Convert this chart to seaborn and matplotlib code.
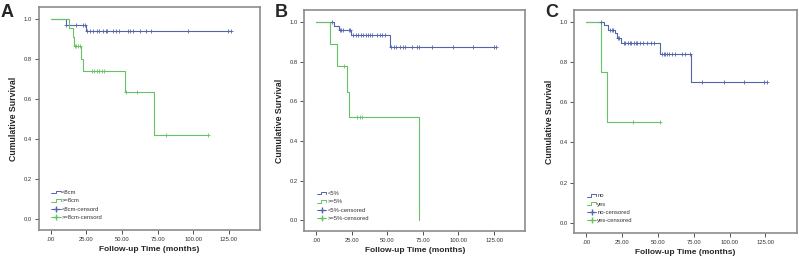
import numpy as np
import pandas as pd
import seaborn as sns
import matplotlib
matplotlib.use("Agg")
import matplotlib.pyplot as plt
from matplotlib.lines import Line2D
from matplotlib.legend_handler import HandlerBase

sns.set_style("white")
plt.rcParams['font.family'] = ['Liberation Sans', 'DejaVu Sans']

BLUE = "#5366ab"
GREEN = "#66c266"

# ---------------- Panel A: tumour size ----------------
a_blue_t = [0, 10.5, 24.7, 126.7]
a_blue_s = [1.0, 0.97, 0.94, 0.94]
a_blue_cens_t = [11, 18, 22.8, 24,
                 25.7, 27.5, 29.9, 32.2, 34.1, 36.4, 38.7, 39.7, 43.9, 45.7, 48.1,
                 54.4, 55.5, 57.9, 62.5, 67.2, 70.7, 96.4, 124.4, 126.7]
a_blue_cens_s = [0.97] * 4 + [0.94] * 20
a_green_t = [0, 13, 15.4, 16.3, 21.2, 22.9, 52, 72.6, 110.4]
a_green_s = [1.0, 0.955, 0.91, 0.864, 0.80, 0.74, 0.635, 0.423, 0.423]
a_green_cens_t = [17, 18, 19.4, 20.5, 28.7, 30.3, 32.2, 33.8, 35.7, 37.3, 52.5, 60.2, 81.2, 110.4]
a_green_cens_s = [0.864] * 4 + [0.74] * 6 + [0.635] * 2 + [0.423] * 2
a_labels = ["<8cm", ">=8cm", "<8cm-censord", ">=8cm-censord"]

# ---------------- Panel B ----------------
b_blue_t = [0, 12.8, 15.8, 24.6, 51.8, 126.6]
b_blue_s = [1.0, 0.98, 0.96, 0.935, 0.875, 0.875]
b_blue_cens_t = [11, 16.7, 17.6, 19, 22.8, 23.7,
                 26, 27.9, 29.7, 31.4, 33, 34.9, 36.7, 37.8, 39.5, 43, 44.6, 46.5, 48.3,
                 52.3, 54.6, 56.2, 58.6, 60.9, 62.7, 67.4, 70.9, 72.5, 81.3, 96.4, 110.4, 125, 126.6]
b_blue_cens_s = [1.0] + [0.96] * 5 + [0.935] * 13 + [0.875] * 14
b_green_t = [0, 10, 14.6, 21.6, 22.8, 72.5]
b_green_s = [1.0, 0.889, 0.778, 0.648, 0.519, 0.0]
b_green_cens_t = [19.3, 29, 30.7, 32.5]
b_green_cens_s = [0.778, 0.519, 0.519, 0.519]
b_labels = ["<5%", ">=5%", "<5%-censored", ">=5%-censored"]

# ---------------- Panel C ----------------
c_blue_t = [0, 12.6, 15.6, 20.3, 21.4, 24.2, 51.7, 73.1, 126.3]
c_blue_s = [1.0, 0.985, 0.963, 0.945, 0.92, 0.896, 0.84, 0.70, 0.70]
c_blue_cens_t = [10.5, 16.8, 17.9, 19.1, 21.9, 22.6,
                 26.1, 27.2, 28.9, 30.3, 31.4, 33.1, 34.9, 35.8, 37.7, 40, 42.4, 45.2, 47.5,
                 52.8, 54, 55.2, 56.3, 57.5, 59.8, 62.2, 66.8, 69.1, 72.2,
                 81, 96, 110, 124, 126.3]
c_blue_cens_s = [1.0] + [0.963] * 3 + [0.92] * 2 + [0.896] * 13 + [0.84] * 10 + [0.70] * 5
c_green_t = [0, 10.2, 14.9, 51.7]
c_green_s = [1.0, 0.75, 0.5, 0.5]
c_green_cens_t = [32.6, 51.7]
c_green_cens_s = [0.5, 0.5]
c_labels = ["no", "yes", "no-censored", "yes-censored"]

x_ticks = [0, 25, 50, 75, 100, 125]
x_tick_labels = [".00", "25.00", "50.00", "75.00", "100.00", "125.00"]
y_ticks = [0.0, 0.2, 0.4, 0.6, 0.8, 1.0]
y_tick_labels = ["0.0", "0.2", "0.4", "0.6", "0.8", "1.0"]


class StepHandler(HandlerBase):
    def create_artists(self, legend, orig_handle, xdescent, ydescent, width, height, fontsize, trans):
        x0, x1 = -xdescent, -xdescent + width
        ylo = -ydescent + height * 0.2
        yhi = -ydescent + height * 0.85
        xm = x0 + width * 0.45
        line = Line2D([x0, xm, xm, x1, x1], [ylo, ylo, yhi, yhi, ylo + height * 0.2],
                      color=orig_handle.get_color(), lw=0.7)
        line.set_transform(trans)
        return [line]


fig = plt.figure(figsize=(7.99, 2.62), dpi=100)
positions = [
    [0.0488, 0.1221, 0.2766, 0.852],
    [0.381, 0.1183, 0.2762, 0.8435],
    [0.7188, 0.1095, 0.2783, 0.852],
]
panels = [
    ("A", a_blue_t, a_blue_s, a_blue_cens_t, a_blue_cens_s, a_green_t, a_green_s, a_green_cens_t, a_green_cens_s, a_labels),
    ("B", b_blue_t, b_blue_s, b_blue_cens_t, b_blue_cens_s, b_green_t, b_green_s, b_green_cens_t, b_green_cens_s, b_labels),
    ("C", c_blue_t, c_blue_s, c_blue_cens_t, c_blue_cens_s, c_green_t, c_green_s, c_green_cens_t, c_green_cens_s, c_labels),
]

for pos, (letter, bt, bs, bct, bcs, gt, gs, gct, gcs, labels) in zip(positions, panels):
    ax = fig.add_axes(pos)
    sns.lineplot(x=bt, y=bs, ax=ax, color=BLUE, lw=0.8, drawstyle="steps-post",
                 estimator=None, sort=False)
    sns.lineplot(x=gt, y=gs, ax=ax, color=GREEN, lw=0.8, drawstyle="steps-post",
                 estimator=None, sort=False)
    sns.scatterplot(x=bct, y=bcs, ax=ax, color=BLUE, marker="+", s=11, linewidth=0.6, zorder=3)
    sns.scatterplot(x=gct, y=gcs, ax=ax, color=GREEN, marker="+", s=11, linewidth=0.6, zorder=3)
    ax.set_xlim(-8.2, 146.8)
    ax.set_ylim(-0.053, 1.06)
    ax.set_xticks(x_ticks)
    ax.set_xticklabels(x_tick_labels)
    ax.set_yticks(y_ticks)
    ax.set_yticklabels(y_tick_labels)
    ax.tick_params(axis="both", which="major", direction="out", length=3, width=0.6,
                   labelsize=4.2, colors="#333333", pad=2, bottom=True, left=True)
    for sp in ax.spines.values():
        sp.set_color("#8c8c8c")
        sp.set_linewidth(1.2)
    ax.set_xlabel("Follow-up Time (months)", fontsize=6, fontweight="bold", labelpad=3)
    ax.set_ylabel("Cumulative Survival", fontsize=6.3, fontweight="bold", labelpad=4)

    h_blue = Line2D([], [], color=BLUE)
    h_green = Line2D([], [], color=GREEN)
    h_bc = Line2D([], [], color=BLUE, marker="+", markersize=4, lw=0.7)
    h_gc = Line2D([], [], color=GREEN, marker="+", markersize=4, lw=0.7)
    leg = ax.legend([h_blue, h_green, h_bc, h_gc], labels,
                    handler_map={h_blue: StepHandler(), h_green: StepHandler()},
                    loc="lower left", bbox_to_anchor=(0.055, 0.045), frameon=False,
                    fontsize=4.2, handlelength=1.7, handletextpad=0.15, labelspacing=0.55,
                    borderaxespad=0, borderpad=0)
    for t in leg.get_texts():
        t.set_color("#333333")

    fig.text(pos[0] - 0.048 if letter == "A" else pos[0] - 0.037, 0.985, letter,
             fontsize=13, fontweight="bold", va="top", ha="left")

fig.savefig("out.png", dpi=100, facecolor="white")
